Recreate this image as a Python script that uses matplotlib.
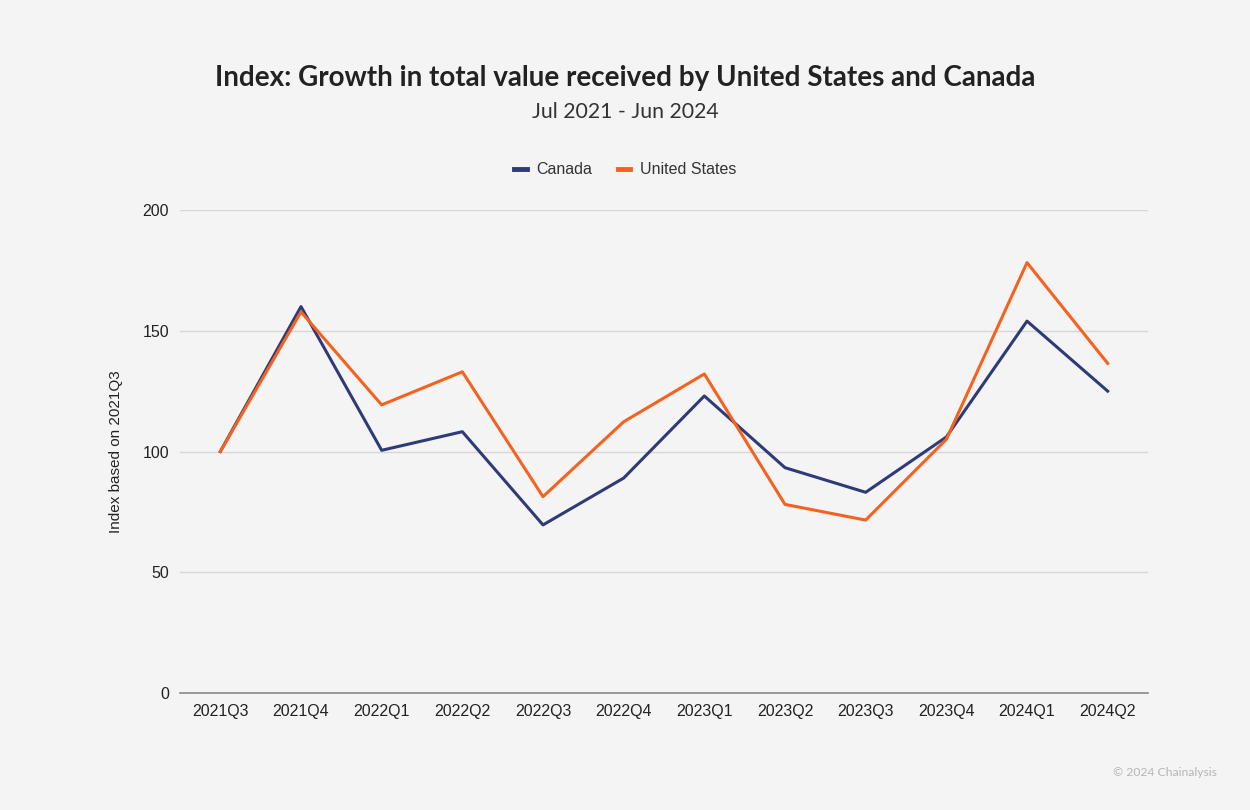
import matplotlib.pyplot as plt

quarters = ['2021Q3', '2021Q4', '2022Q1', '2022Q2', '2022Q3', '2022Q4',
            '2023Q1', '2023Q2', '2023Q3', '2023Q4', '2024Q1', '2024Q2']
canada = [100, 160, 100.5, 108.2, 69.6, 89, 123, 93.3, 83.1, 106, 154, 125]
united_states = [100, 157.8, 119.3, 133, 81.3, 112.3, 132.1, 78.1, 71.6, 105, 178.2, 136.5]
y_ticks = [0, 50, 100, 150, 200]

bg = '#f4f4f4'
navy = '#2f3b78'
orange = '#f5621f'

fig = plt.figure(figsize=(12.5, 8.1), dpi=100, facecolor=bg)
ax = fig.add_axes([180 / 1250, 1 - 693 / 810, 968 / 1250, 483 / 810])
ax.set_facecolor(bg)

x = list(range(len(quarters)))
ax.plot(x, canada, color=navy, lw=2.2, label='Canada', zorder=3)
ax.plot(x, united_states, color=orange, lw=2.2, label='United States', zorder=3)

ax.set_xlim(-0.5, len(quarters) - 0.5)
ax.set_ylim(0, 200)
ax.set_yticks(y_ticks)
ax.set_xticks(x)
ax.set_xticklabels(quarters)
ax.grid(axis='y', color='#d6d6d6', lw=1)
ax.set_axisbelow(True)
for s in ['top', 'right', 'left']:
    ax.spines[s].set_visible(False)
ax.spines['bottom'].set_color('#8a8a8a')
ax.spines['bottom'].set_linewidth(1.2)
ax.tick_params(axis='both', length=0, labelsize=11.5, colors='#222222',
               labelfontfamily='Liberation Sans')
ax.tick_params(axis='x', pad=8)
ax.tick_params(axis='y', pad=8)
ax.set_ylabel('Index based on 2021Q3', fontsize=11, family='Liberation Sans',
              color='#222222', labelpad=14)

fig.text(0.5, 1 - 78 / 810, 'Index: Growth in total value received by United States and Canada',
         ha='center', va='center', fontsize=20, fontweight='bold', family='Lato', color='#222222')
fig.text(0.5, 1 - 112 / 810, 'Jul 2021 - Jun 2024', ha='center', va='center',
         fontsize=15.3, family='Lato', color='#333333')

leg = fig.legend(loc='center', bbox_to_anchor=(0.5, 1 - 170 / 810), ncol=2, frameon=False,
                 prop={'family': 'Liberation Sans', 'size': 11.5}, handlelength=0.8,
                 handleheight=0.5, columnspacing=1.6, handletextpad=0.6)
for line in leg.get_lines():
    line.set_linewidth(3.5)
for t in leg.get_texts():
    t.set_color('#333333')

fig.text(1217 / 1250, 1 - 772 / 810, '\u00a9 2024 Chainalysis', ha='right', va='center',
         fontsize=8.7, family='Lato', color='#b5b5b5')

fig.savefig('out.png', dpi=100, facecolor=bg)
